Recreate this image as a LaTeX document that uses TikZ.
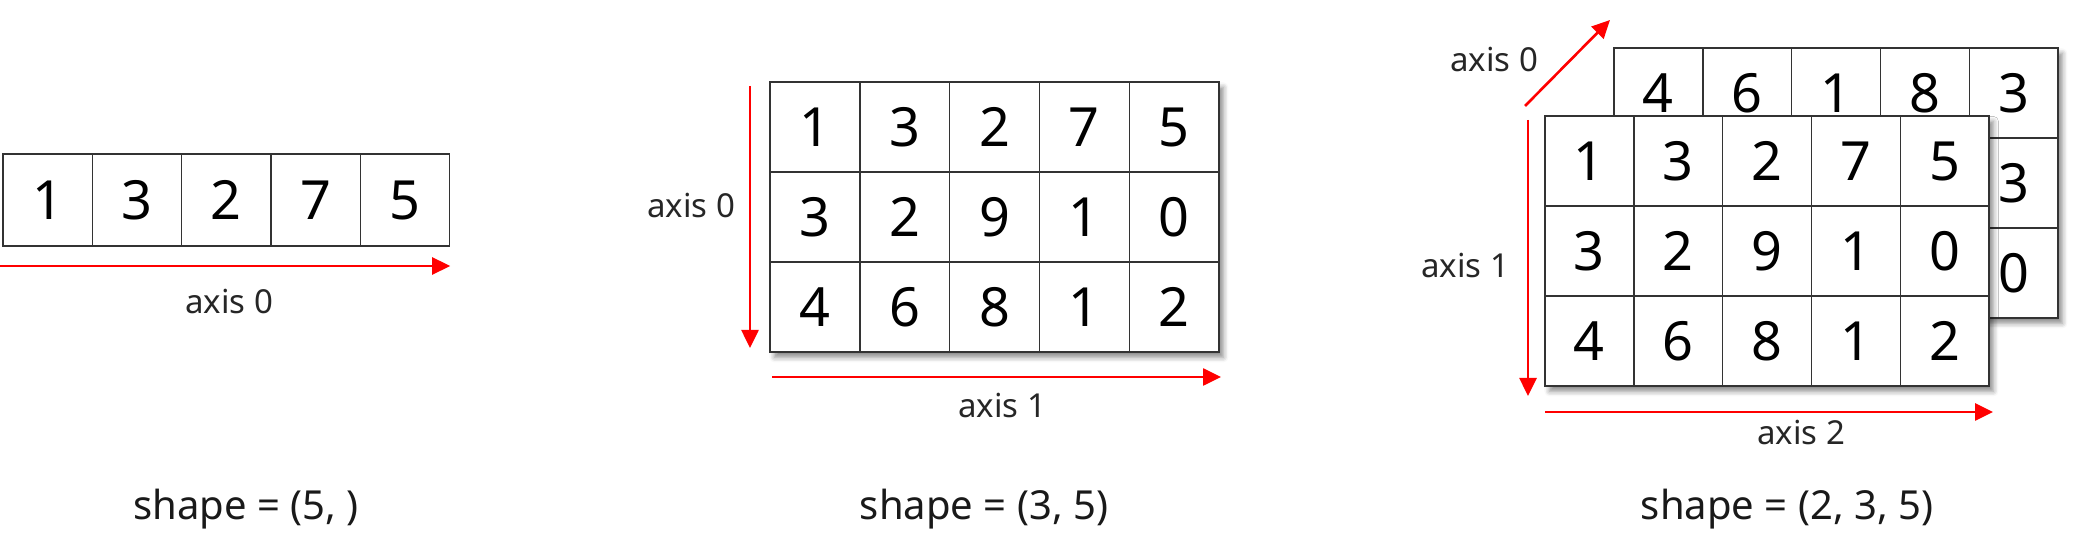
\documentclass[tikz,border=0pt]{standalone}
\usepackage{fontspec}
\setmainfont{Noto Sans}
\usetikzlibrary{arrows.meta,shadows.blur}

\begin{document}
\begin{tikzpicture}[x=0.5pt,y=-0.5pt,>={Triangle[length=9pt,width=8.5pt]},
	cell/.style={draw=black!80,line width=0.7pt,fill=white,inner sep=0pt,font=\fontsize{27}{27}\selectfont},
	digit/.style={inner sep=0pt,font=\fontsize{27}{27}\selectfont},
	axis/.style={->,red,line width=1.3pt},
	lbl/.style={text=black!85,font=\fontsize{16.5}{18}\selectfont},
	shapelbl/.style={text=black!90,font=\fontsize{20}{22}\selectfont},
	frame/.style={fill=white,inner sep=0pt,anchor=north west,
		blur shadow={shadow xshift=2pt,shadow yshift=-2.5pt,shadow blur radius=2.5pt,shadow opacity=45}}]
	\useasboundingbox (0,0) rectangle (2083,550);
	% shape (5,)
	\foreach \v [count=\i] in {1,3,2,7,5}
		\node[cell,minimum width=44.65pt,minimum height=46pt] (a\i) at ({3+44.65+(\i-1)*89.3},200) {\v};
	\coordinate (a0) at (0,266);
	\draw[axis] (a0) -- (a5.south east |- a0);
	\node[lbl] (ax0) at (229,302) {axis 0};
	\node[shapelbl] (capa) at (246,509) {shape = (5, )};
	% shape (3,5)
	\node[frame,minimum width=224.5pt,minimum height=135pt] (g2) at (770,82) {};
	\foreach \row [count=\j] in {{1,3,2,7,5},{3,2,9,1,0},{4,6,8,1,2}}
		\foreach \v [count=\i] in \row
			\node[cell,minimum width=44.9pt,minimum height=45pt] (b\j\i) at ({770+44.9+(\i-1)*89.8},{82+45+(\j-1)*90}) {\v};
	\coordinate (b0s) at (750,86);
	\coordinate (b0e) at (750,348);
	\draw[axis] (b0s) -- (b0e);
	\node[lbl,anchor=east] (bx0) at (742,206) {axis 0};
	\coordinate (b1s) at (772,377);
	\coordinate (b1e) at (1221,377);
	\draw[axis] (b1s) -- (b1e);
	\node[lbl] (bx1) at (1002,406) {axis 1};
	\node[shapelbl] (capb) at (984,509) {shape = (3, 5)};
	% shape (2,3,5)
	\node[frame,minimum width=222pt,minimum height=135pt] (g3b) at (1614,48) {};
	\foreach \j in {1,2,3}
		\foreach \i in {1,...,5}
			\node[cell,minimum width=44.4pt,minimum height=45pt] (d\j\i) at ({1614+44.4+(\i-1)*88.8},{48+45+(\j-1)*90}) {};
	\foreach \v/\c in {4/d11,6/d12,1/d13,8/d14,3/d15,3/d25,0/d35}
		\node[digit] at (\c) {\v};
	\node[frame,minimum width=222pt,minimum height=135pt] (g3f) at (1545,116) {};
	\foreach \row [count=\j] in {{1,3,2,7,5},{3,2,9,1,0},{4,6,8,1,2}}
		\foreach \v [count=\i] in \row
			\node[cell,minimum width=44.4pt,minimum height=45pt] (c\j\i) at ({1545+44.4+(\i-1)*88.8},{116+45+(\j-1)*90}) {\v};
	\coordinate (c0s) at (1525,106);
	\coordinate (c0e) at (1610,20);
	\draw[axis] (c0s) -- (c0e);
	\node[lbl] (cx0) at (1494,60) {axis 0};
	\coordinate (c1s) at (1528,120);
	\coordinate (c1e) at (1528,396);
	\draw[axis] (c1s) -- (c1e);
	\node[lbl,anchor=east] (cx1) at (1516,266) {axis 1};
	\coordinate (c2s) at (1545,412);
	\coordinate (c2e) at (1993,412);
	\draw[axis] (c2s) -- (c2e);
	\node[lbl] (cx2) at (1801,433) {axis 2};
	\node[shapelbl] (capc) at (1787,509) {shape = (2, 3, 5)};
\end{tikzpicture}
\end{document}
